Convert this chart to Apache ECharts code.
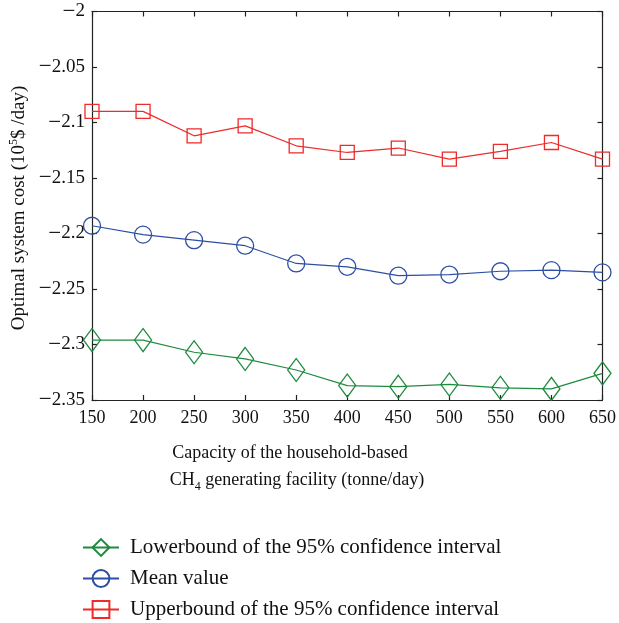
<!DOCTYPE html>
<html><head><meta charset="utf-8">
<script src="https://cdn.jsdelivr.net/npm/echarts@6/dist/echarts.min.js"></script>
<style>html,body{margin:0;padding:0;background:#fff}#c{width:619px;height:623px}</style>
</head><body><div id="c"></div>
<script>
const capacity = [150,200,250,300,350,400,450,500,550,600,650];
const upper = [-2.090,-2.090,-2.112,-2.103,-2.121,-2.127,-2.123,-2.133,-2.126,-2.118,-2.133];
const mean  = [-2.193,-2.201,-2.206,-2.211,-2.227,-2.230,-2.238,-2.237,-2.234,-2.233,-2.235];
const lower = [-2.296,-2.296,-2.307,-2.313,-2.323,-2.337,-2.338,-2.336,-2.339,-2.340,-2.326];
const seriesNames = ['Lowerbound of the 95% confidence interval','Mean value','Upperbound of the 95% confidence interval'];

const FONT = '"Liberation Serif","DejaVu Serif",serif';
const pair = a => capacity.map((x,i)=>[x,a[i]]);

const chart = echarts.init(document.getElementById('c'));
const axisLine = {show:true, lineStyle:{color:'#222', width:1.2}};
const tick = {show:true, inside:true, length:5, lineStyle:{color:'#222', width:1.2}};
function mk(name, data, color, symbol, size){
  return {name, type:'line', data:pair(data), symbol, symbolSize:size,
    lineStyle:{color, width:1.2}, itemStyle:{color:'rgba(255,255,255,0)', borderColor:color, borderWidth:1.3},
    emphasis:{disabled:true}, animation:false, z:3};
}
chart.setOption({
  animation:false,
  grid:{left:92, right:16, top:11, bottom:223},
  xAxis:[
    {type:'value', min:150, max:650, interval:50, axisLine, axisTick:tick, splitLine:{show:false},
     axisLabel:{fontFamily:FONT, fontSize:18, color:'#111', margin:9}},
    {type:'value', position:'top', min:150, max:650, interval:50, axisLine, axisTick:tick, splitLine:{show:false}, axisLabel:{show:false}}
  ],
  yAxis:[
    {type:'value', min:-2.35, max:-2, interval:0.05, axisLine, axisTick:tick, splitLine:{show:false},
     axisLabel:{fontFamily:FONT, fontSize:19, color:'#111', margin:7,
       formatter:v=>{const s=String(+v.toFixed(2)); return s[0]==='-' ? '{m|\u2212}'+s.slice(1) : s;},
       rich:{m:{fontFamily:FONT, fontSize:23, color:'#111'}}}},
    {type:'value', position:'right', min:-2.35, max:-2, interval:0.05, axisLine, axisTick:tick, splitLine:{show:false}, axisLabel:{show:false}}
  ],
  legend:{orient:'vertical', left:82, top:537, padding:0, itemGap:10, itemWidth:36, itemHeight:21,
    data:seriesNames, textStyle:{fontFamily:FONT, fontSize:21, color:'#111', padding:[0,0,0,6]}, selectedMode:false},
  series:[
    mk(seriesNames[0], lower, '#1e8a3e', 'diamond', [17,23]),
    mk(seriesNames[1], mean, '#2d4ea5', 'circle', 17),
    mk(seriesNames[2], upper, '#ee2a2a', 'rect', 14)
  ],
  graphic:[
    {type:'text', x:19, y:208, rotation:Math.PI/2, style:{
      text:'Optimal system cost (10{sup|5}$ /day)', fontFamily:FONT, fontSize:19, fill:'#111',
      align:'center', verticalAlign:'middle',
      rich:{sup:{fontFamily:FONT, fontSize:12, fill:'#111', verticalAlign:'top', lineHeight:22}}}},
    {type:'text', x:290, y:453, style:{text:'Capacity of the household-based', fontFamily:FONT, fontSize:18, fill:'#111', align:'center', verticalAlign:'middle'}},
    {type:'text', x:297, y:480, style:{text:'CH{sub|4} generating facility (tonne/day)', fontFamily:FONT, fontSize:18, fill:'#111', align:'center', verticalAlign:'middle',
      rich:{sub:{fontFamily:FONT, fontSize:12, fill:'#111', verticalAlign:'bottom', lineHeight:25}}}}
  ]
});
</script></body></html>
